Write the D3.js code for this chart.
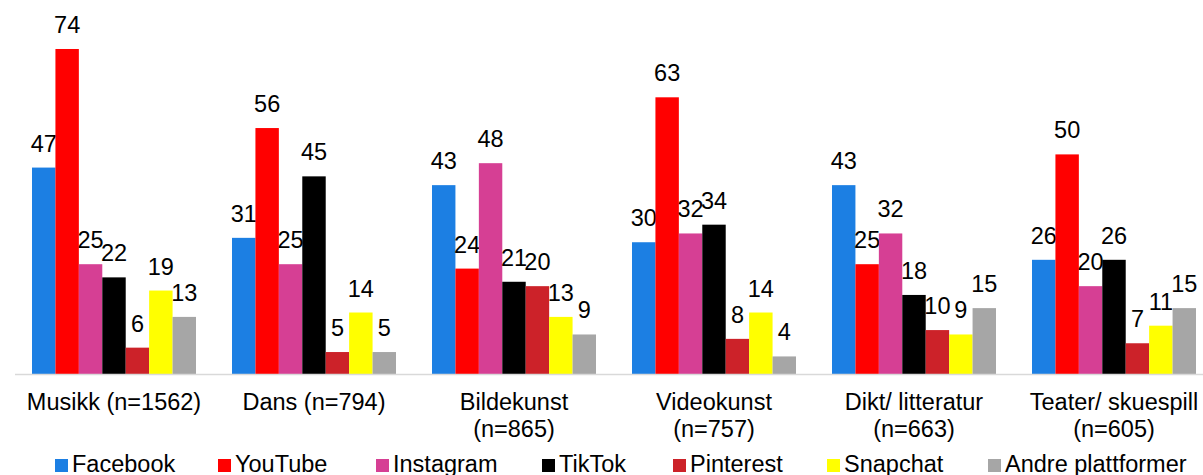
<!DOCTYPE html>
<html>
<head>
<meta charset="utf-8">
<script src="https://cdn.jsdelivr.net/npm/d3@7"></script>
<style>
  body { margin: 0; background: #fff; }
  svg { display: block; font-family: "Liberation Sans", Arial, sans-serif; }
</style>
</head>
<body>
<div id="chart"></div>
<script>
// categories (two-line labels) and platform series
const categories = ["Musikk (n=1562)", "Dans (n=794)", "Bildekunst|(n=865)", "Videokunst|(n=757)", "Dikt/ litteratur|(n=663)", "Teater/ skuespill|(n=605)"];
const platforms = ["Facebook", "YouTube", "Instagram", "TikTok", "Pinterest", "Snapchat", "Andre plattformer"];
const colors = ["#1c7fe3", "#ff0000", "#d63f94", "#000000", "#cc2229", "#ffff00", "#a6a6a6"];

const facebook  = [47, 31, 43, 30, 43, 26];
const youtube   = [74, 56, 24, 63, 25, 50];
const instagram = [25, 25, 48, 32, 32, 20];
const tiktok    = [22, 45, 21, 34, 18, 26];
const pinterest = [6, 5, 20, 8, 10, 7];
const snapchat  = [19, 14, 13, 14, 9, 11];
const andre     = [13, 5, 9, 4, 15, 15];

const series = [facebook, youtube, instagram, tiktok, pinterest, snapchat, andre];

const width = 1203, height = 475;
const baseY = 374;
const fontSize = 23.5;

const svg = d3.select("#chart").append("svg")
    .attr("width", width)
    .attr("height", height);

// outer band per category, inner band per platform
const x0 = d3.scaleBand()
    .domain(categories)
    .range([15, 1215]);

const x1 = d3.scaleBand()
    .domain(platforms)
    .range([17, 181]);

const y = d3.scaleLinear()
    .domain([0, 80])
    .range([baseY, baseY - 80 * 4.392]);

const color = d3.scaleOrdinal().domain(platforms).range(colors);

const groups = svg.selectAll("g.group")
    .data(categories)
    .enter()
    .append("g")
        .attr("class", "group")
        .attr("transform", d => `translate(${x0(d)},0)`);

const bars = groups.selectAll("g.bar")
    .data((c, ci) => platforms.map((p, pi) => ({ p, v: series[pi][ci] })))
    .enter()
    .append("g")
        .attr("class", "bar");

bars.append("rect")
    .attr("x", d => x1(d.p))
    .attr("y", d => y(d.v))
    .attr("width", x1.bandwidth())
    .attr("height", d => baseY - y(d.v))
    .attr("fill", d => color(d.p));

bars.append("text")
    .attr("x", d => x1(d.p) + x1.bandwidth() / 2)
    .attr("y", d => y(d.v) - 16)
    .attr("text-anchor", "middle")
    .attr("font-size", fontSize)
    .attr("fill", "#000")
    .text(d => d.v);

// baseline
svg.append("line")
    .attr("x1", 15).attr("x2", width)
    .attr("y1", baseY + 0.5).attr("y2", baseY + 0.5)
    .attr("stroke", "#d9d9d9")
    .attr("stroke-width", 1.5);

// category labels
const catLabel = svg.selectAll("text.cat")
    .data(categories)
    .enter()
    .append("text")
        .attr("class", "cat")
        .attr("x", d => x0(d) + 99)
        .attr("y", 410)
        .attr("text-anchor", "middle")
        .attr("font-size", fontSize)
        .attr("fill", "#000");

catLabel.selectAll("tspan")
    .data(d => d.split("|"))
    .enter()
    .append("tspan")
        .attr("x", function() { return d3.select(this.parentNode).attr("x"); })
        .attr("dy", (d, i) => i === 0 ? 0 : 27)
        .text(d => d);

// legend
const legendX = [55, 218, 376, 542, 673, 827, 988];
const legend = svg.selectAll("g.legend")
    .data(platforms)
    .enter()
    .append("g")
        .attr("class", "legend")
        .attr("transform", (d, i) => `translate(${legendX[i]},0)`);

legend.append("rect")
    .attr("x", 0).attr("y", 459)
    .attr("width", 13).attr("height", 13)
    .attr("fill", d => color(d));

legend.append("text")
    .attr("x", 17)
    .attr("y", 472)
    .attr("font-size", fontSize)
    .attr("fill", "#000")
    .text(d => d);
</script>
</body>
</html>
